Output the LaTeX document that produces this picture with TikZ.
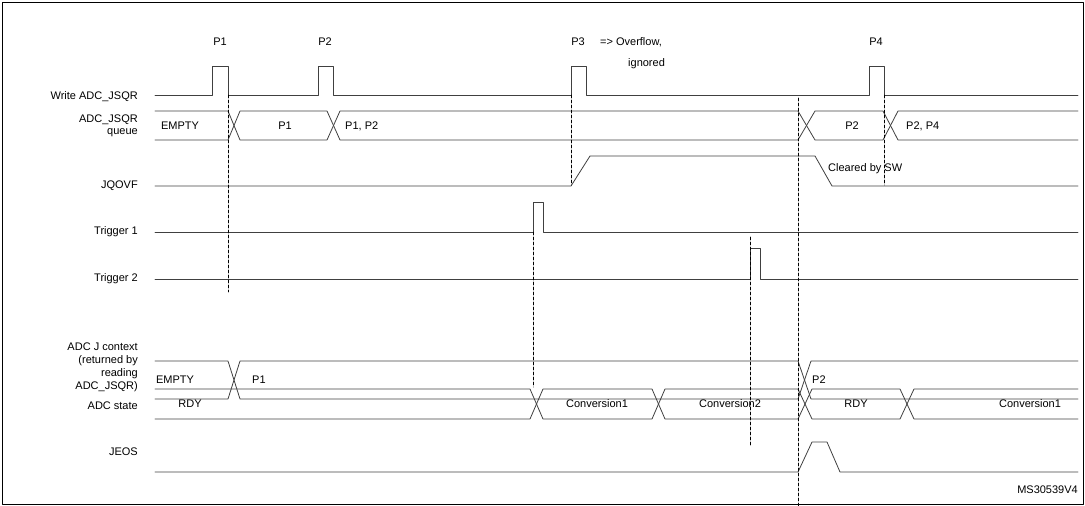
\documentclass[tikz,border=0pt]{standalone}
\usepackage{fontspec}
\setmainfont{Liberation Sans}
\begin{document}
\begin{tikzpicture}[x=1pt,y=-1pt,line cap=round,line join=round,
  sig/.style={line width=0.8pt,black!75},
  guide/.style={densely dashed,line width=0.6pt},
  lbl/.style={font=\fontsize{11}{12.5}\selectfont,inner sep=0pt},
  signame/.style={lbl,anchor=east,align=right}]
\useasboundingbox (0,0) rectangle (1085,506);
\draw[line width=1pt] (2,2) rectangle (1083,504);
% signal names
\node[signame] (nwr) at (138,97) {Write ADC\_JSQR};
\node[signame] (nq) at (138,126) {ADC\_JSQR\\queue};
\node[signame] (nov) at (138,186) {JQOVF};
\node[signame] (nt1) at (138,232) {Trigger 1};
\node[signame] (nt2) at (138,279) {Trigger 2};
\node[signame,font=\fontsize{11}{13}\selectfont] (nctx) at (138,367) {ADC J context\\(returned by\\reading\\ADC\_JSQR)};
\node[signame] (nst) at (138,406) {ADC state};
\node[signame] (neo) at (138,452) {JEOS};
% write pulses
\draw[sig] (155,95) -- (212,95) |- (228,66) |- (318,95) |- (333,66) |- (571,95) |- (586,66) |- (869,95) |- (884,66) |- (1078,95);
\node[lbl] (p1) at (220,42) {P1};
\node[lbl] (p2) at (325,42) {P2};
\node[lbl] (p3) at (578,42) {P3};
\node[lbl] (p4) at (876,42) {P4};
\node[lbl,anchor=west] (ovf) at (600,42) {=> Overflow,};
\node[lbl,anchor=west] (ign) at (628,64) {ignored};
% queue bus
\draw[sig] (155,111) -- (228,111) -- (240,140) -- (327,140) -- (340,111) -- (798,111) -- (815,140) -- (883,140) -- (898,111) -- (1078,111);
\draw[sig] (155,140) -- (228,140) -- (240,111) -- (327,111) -- (340,140) -- (798,140) -- (815,111) -- (883,111) -- (898,140) -- (1078,140);
\node[lbl] (qe) at (180,126) {EMPTY};
\node[lbl] (q1) at (285,126) {P1};
\node[lbl,anchor=west] (q12) at (345,126) {P1, P2};
\node[lbl] (q2) at (852,126) {P2};
\node[lbl,anchor=west] (q24) at (906,126) {P2, P4};
% JQOVF
\draw[sig] (155,186) -- (571,186) -- (590,156) -- (815,156) -- (832,186) -- (1078,186);
\node[lbl,anchor=west] (clr) at (828,169) {Cleared by SW};
% triggers
\draw[sig] (155,232) -- (533,232) |- (543,202) -- (543,232) -- (1078,232);
\draw[sig] (155,279) -- (750,279) |- (760,248) -- (760,279) -- (1078,279);
% context bus
\draw[sig] (155,361) -- (228,361) -- (240,399) -- (798,399) -- (811,361) -- (1078,361);
\draw[sig] (155,399) -- (228,399) -- (240,361) -- (798,361) -- (811,399) -- (1078,399);
\node[lbl] (ce) at (175,380) {EMPTY};
\node[lbl,anchor=west] (c1) at (252,380) {P1};
\node[lbl,anchor=west] (c2) at (812,380) {P2};
% ADC state bus
\foreach \y/\z in {389/419,419/389}
  \draw[sig] (155,\y) -- (530,\y) -- (543,\z) -- (652,\z) -- (665,\y) -- (798,\y) -- (812,\z) -- (900,\z) -- (914,\y) -- (1078,\y);
\node[lbl] (s1) at (190,404) {RDY};
\node[lbl] (s2) at (597,404) {Conversion1};
\node[lbl] (s3) at (730,404) {Conversion2};
\node[lbl] (s4) at (856,404) {RDY};
\node[lbl] (s5) at (1030,404) {Conversion1};
% JEOS
\draw[sig] (155,472) -- (798,472) -- (812,442) -- (827,442) -- (840,472) -- (1078,472);
\node[lbl,anchor=east] (ms) at (1078,490) {MS30539V4};
% markers
\draw[guide] (228,95) -- (228,292);
\draw[guide] (571,95) -- (571,185);
\draw[guide] (798,98) -- (798,515);
\draw[guide] (884,95) -- (884,185);
\draw[guide] (533,232) -- (533,387);
\draw[guide] (750,237) -- (750,445);
\end{tikzpicture}
\end{document}
